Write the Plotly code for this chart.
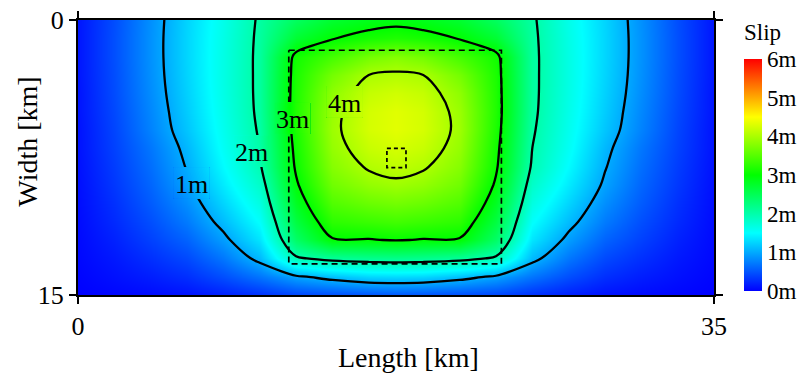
import plotly.graph_objects as go

# ---- data ----
length_km = [0, 2, 4, 6, 8, 10, 12, 14, 16, 17.5, 19, 21, 23, 25, 27, 29, 31, 33, 35]
width_km = [0, 1, 2, 3, 4, 5, 6, 7, 8, 9, 10, 11, 12, 13, 14, 15]

# slip [m], one row per width value (down-dip), columns follow length_km
slip_m = [
    [0.12, 0.45, 0.85, 1.25, 1.62, 2.05, 2.45, 2.72, 2.85, 2.90, 2.85, 2.72, 2.45, 2.05, 1.62, 1.25, 0.85, 0.45, 0.12],
    [0.12, 0.46, 0.86, 1.26, 1.64, 2.07, 2.70, 2.98, 3.12, 3.18, 3.12, 2.98, 2.70, 2.07, 1.64, 1.26, 0.86, 0.46, 0.12],
    [0.12, 0.46, 0.86, 1.26, 1.65, 2.08, 3.10, 3.40, 3.68, 3.78, 3.68, 3.40, 3.10, 2.08, 1.65, 1.26, 0.86, 0.46, 0.12],
    [0.12, 0.45, 0.85, 1.25, 1.65, 2.08, 3.15, 3.68, 4.00, 4.05, 4.00, 3.68, 3.15, 2.08, 1.65, 1.25, 0.85, 0.45, 0.12],
    [0.11, 0.44, 0.83, 1.23, 1.64, 2.08, 3.17, 3.83, 4.15, 4.22, 4.15, 3.83, 3.17, 2.08, 1.64, 1.23, 0.83, 0.44, 0.11],
    [0.11, 0.42, 0.80, 1.20, 1.62, 2.07, 3.18, 3.90, 4.24, 4.32, 4.24, 3.90, 3.18, 2.07, 1.62, 1.20, 0.80, 0.42, 0.11],
    [0.10, 0.40, 0.77, 1.16, 1.59, 2.04, 3.15, 3.92, 4.25, 4.33, 4.25, 3.92, 3.15, 2.04, 1.59, 1.16, 0.77, 0.40, 0.10],
    [0.10, 0.38, 0.70, 1.08, 1.55, 2.00, 3.10, 3.87, 4.17, 4.25, 4.17, 3.87, 3.10, 2.00, 1.55, 1.08, 0.70, 0.38, 0.10],
    [0.09, 0.35, 0.65, 1.02, 1.48, 1.95, 3.05, 3.78, 4.04, 4.12, 4.04, 3.78, 3.05, 1.95, 1.48, 1.02, 0.65, 0.35, 0.09],
    [0.08, 0.32, 0.60, 0.95, 1.38, 1.82, 2.95, 3.65, 3.86, 3.93, 3.86, 3.65, 2.95, 1.82, 1.38, 0.95, 0.60, 0.32, 0.08],
    [0.07, 0.28, 0.54, 0.84, 1.25, 1.68, 2.80, 3.47, 3.62, 3.68, 3.62, 3.47, 2.80, 1.68, 1.25, 0.84, 0.54, 0.28, 0.07],
    [0.06, 0.24, 0.46, 0.72, 1.10, 1.52, 2.62, 3.25, 3.33, 3.38, 3.33, 3.25, 2.62, 1.52, 1.10, 0.72, 0.46, 0.24, 0.06],
    [0.05, 0.19, 0.38, 0.58, 0.92, 1.35, 2.40, 2.97, 2.98, 3.02, 2.98, 2.97, 2.40, 1.35, 0.92, 0.58, 0.38, 0.19, 0.05],
    [0.04, 0.14, 0.28, 0.43, 0.70, 1.10, 1.95, 2.12, 2.18, 2.20, 2.18, 2.12, 1.95, 1.10, 0.70, 0.43, 0.28, 0.14, 0.04],
    [0.02, 0.09, 0.17, 0.27, 0.45, 0.68, 0.95, 1.12, 1.25, 1.27, 1.25, 1.12, 0.95, 0.68, 0.45, 0.27, 0.17, 0.09, 0.02],
    [0.00, 0.03, 0.06, 0.10, 0.18, 0.28, 0.40, 0.45, 0.48, 0.50, 0.48, 0.45, 0.40, 0.28, 0.18, 0.10, 0.06, 0.03, 0.00],
]

contour_levels = [1, 2, 3, 4]
contour_label_text = ["1m", "2m", "3m", "4m"]
# where each contour label sits on the fault plane [km]
contour_label_x = [6.24, 9.53, 11.79, 14.67]
contour_label_y = [8.89, 7.15, 5.35, 4.45]

asperity_x = [11.6, 23.3]
asperity_y = [1.65, 13.3]
hypocenter_x = [17.0, 18.05]
hypocenter_y = [7.0, 8.05]

x_ticks = [0, 35]
y_ticks = [0, 15]
slip_ticks = [0, 1, 2, 3, 4, 5, 6]
slip_tick_labels = ["0m", "1m", "2m", "3m", "4m", "5m", "6m"]

SERIF = "Liberation Serif, Times New Roman, serif"
X_MAX, Y_MAX = 35.0, 15.0
GAP_HW, GAP_HH = 0.98, 0.85   # half size of the line gap around a label [km]

jet = [[0.0, "#0000ff"], [0.25, "#00ffff"], [0.5, "#00ff00"],
       [0.75, "#ffff00"], [1.0, "#ff0000"]]

fig = go.Figure()

fig.add_trace(go.Heatmap(
    x=length_km, y=width_km, z=slip_m,
    zsmooth="best", colorscale=jet, zmin=0, zmax=6,
    hoverinfo="skip",
    colorbar=dict(
        x=1.0455, xanchor="left", xpad=0, y=0.0145, yanchor="bottom", ypad=0,
        len=0.844, lenmode="fraction", thickness=18, outlinewidth=0,
        tickmode="array", tickvals=slip_ticks, ticktext=slip_tick_labels, ticks="",
        tickfont=dict(family=SERIF, size=23, color="black"),
    ),
))

fig.add_trace(go.Contour(
    x=length_km, y=width_km, z=slip_m,
    autocontour=False,
    contours=dict(start=contour_levels[0], end=contour_levels[-1], size=1,
                  coloring="none", showlabels=False),
    line=dict(color="black", width=2.3, smoothing=1.0),
    showscale=False, hoverinfo="skip",
))


def rect(xs, ys):
    return [xs[0], xs[1], xs[1], xs[0], xs[0]], [ys[0], ys[0], ys[1], ys[1], ys[0]]


ax, ay = rect(asperity_x, asperity_y)
fig.add_trace(go.Scatter(x=ax, y=ay, mode="lines",
                         line=dict(color="black", width=1.7, dash="6px,4px"),
                         showlegend=False, hoverinfo="skip"))
hx, hy = rect(hypocenter_x, hypocenter_y)
fig.add_trace(go.Scatter(x=hx, y=hy, mode="lines",
                         line=dict(color="black", width=1.7, dash="4px,3px"),
                         showlegend=False, hoverinfo="skip"))

axis_common = dict(
    showgrid=False, zeroline=False, showline=True, linecolor="black",
    linewidth=2, mirror="allticks", ticks="outside", ticklen=7,
    tickwidth=2, tickcolor="black", automargin=False,
    tickfont=dict(family=SERIF, size=26, color="black"),
)

layout_extra = {}
annotations = []
# small windows re-showing the slip field above the contour lines -> label gaps
for i, (lx, ly, txt) in enumerate(zip(contour_label_x, contour_label_y, contour_label_text)):
    n = i + 2
    x0, x1 = lx - GAP_HW, lx + GAP_HW
    y0, y1 = ly - GAP_HH, ly + GAP_HH
    layout_extra[f"xaxis{n}"] = dict(domain=[x0 / X_MAX, x1 / X_MAX], range=[x0, x1],
                                     visible=False, anchor=f"y{n}", fixedrange=True)
    layout_extra[f"yaxis{n}"] = dict(domain=[1 - y1 / Y_MAX, 1 - y0 / Y_MAX], range=[y1, y0],
                                     visible=False, anchor=f"x{n}", fixedrange=True)
    fig.add_trace(go.Contour(x=length_km, y=width_km, z=slip_m, autocontour=False,
                             contours=dict(start=0, end=6, size=0.02, coloring="fill"),
                             line=dict(width=0, smoothing=0), colorscale=jet,
                             zmin=0, zmax=6, showscale=False, hoverinfo="skip",
                             xaxis=f"x{n}", yaxis=f"y{n}"))
    annotations.append(dict(text=txt, x=lx, y=ly + 0.08, xref="x", yref="y",
                            xanchor="center", yanchor="middle", showarrow=False,
                            font=dict(family=SERIF, size=26, color="black")))

annotations += [
    dict(text="Slip", x=1.044, y=0.956, xref="paper", yref="paper",
         xanchor="left", yanchor="middle", showarrow=False,
         font=dict(family=SERIF, size=23, color="black")),
    dict(text="Length [km]", x=0.5196, y=-0.2255, xref="paper", yref="paper",
         xanchor="center", yanchor="middle", showarrow=False,
         font=dict(family=SERIF, size=28, color="black")),
    dict(text="Width [km]", x=-0.080, y=0.558, xref="paper", yref="paper",
         xanchor="center", yanchor="middle", showarrow=False, textangle=-90,
         font=dict(family=SERIF, size=28, color="black")),
]

fig.update_layout(
    width=802, height=378,
    margin=dict(l=78, r=87, t=20, b=83),
    paper_bgcolor="white", plot_bgcolor="white",
    showlegend=False,
    xaxis=dict(range=[0, X_MAX], tickvals=x_ticks, domain=[0, 1], **axis_common),
    yaxis=dict(range=[Y_MAX, 0], tickvals=y_ticks, domain=[0, 1], **axis_common),
    annotations=annotations,
    **layout_extra,
)

fig.write_html("out.html", config={"displayModeBar": False},
               post_script="document.body.style.margin='0px';")
